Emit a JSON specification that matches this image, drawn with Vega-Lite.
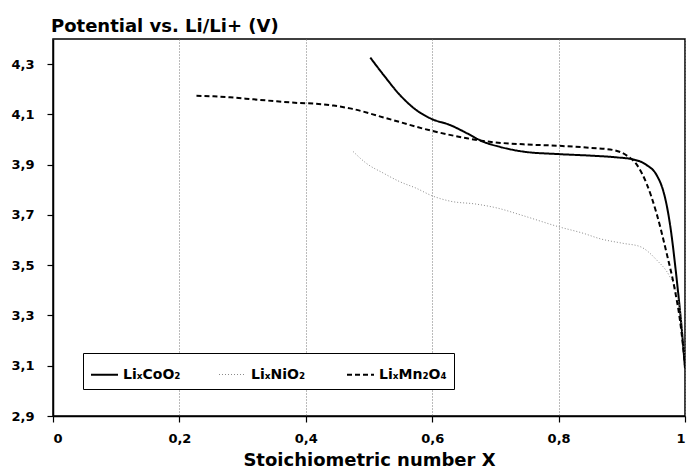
{
  "$schema": "https://vega.github.io/schema/vega-lite/v6.json",
  "autosize": "none",
  "width": 632,
  "height": 377,
  "padding": {"left": 53, "top": 39, "right": 2, "bottom": 55},
  "background": "white",
  "title": {"text": "Potential vs. Li/Li+ (V)", "anchor": "start", "frame": "group", "dx": -2, "offset": 3, "font": "DejaVu Sans", "fontSize": 18, "fontWeight": "bold", "color": "#000"},
  "config": {
    "view": {"stroke": "#000", "strokeWidth": 1.5},
    "axis": {"labelFont": "DejaVu Sans", "labelFontWeight": "bold", "labelFontSize": 13, "labelColor": "#000", "domainColor": "#000", "domainWidth": 1.5, "tickColor": "#000", "tickWidth": 1.2, "tickSize": 6, "titleFont": "DejaVu Sans", "titleFontWeight": "bold", "titleColor": "#000"}
  },
  "data": {"values": [
    {"s": "LiₓCoO₂", "x": 0.502, "v": 4.326},
    {"s": "LiₓCoO₂", "x": 0.523, "v": 4.257},
    {"s": "LiₓCoO₂", "x": 0.549, "v": 4.177},
    {"s": "LiₓCoO₂", "x": 0.575, "v": 4.117},
    {"s": "LiₓCoO₂", "x": 0.599, "v": 4.082},
    {"s": "LiₓCoO₂", "x": 0.628, "v": 4.058},
    {"s": "LiₓCoO₂", "x": 0.655, "v": 4.025},
    {"s": "LiₓCoO₂", "x": 0.681, "v": 3.991},
    {"s": "LiₓCoO₂", "x": 0.707, "v": 3.971},
    {"s": "LiₓCoO₂", "x": 0.744, "v": 3.952},
    {"s": "LiₓCoO₂", "x": 0.800, "v": 3.942},
    {"s": "LiₓCoO₂", "x": 0.850, "v": 3.936},
    {"s": "LiₓCoO₂", "x": 0.892, "v": 3.929},
    {"s": "LiₓCoO₂", "x": 0.918, "v": 3.921},
    {"s": "LiₓCoO₂", "x": 0.939, "v": 3.899},
    {"s": "LiₓCoO₂", "x": 0.955, "v": 3.859},
    {"s": "LiₓCoO₂", "x": 0.966, "v": 3.792},
    {"s": "LiₓCoO₂", "x": 0.971, "v": 3.739},
    {"s": "LiₓCoO₂", "x": 0.976, "v": 3.667},
    {"s": "LiₓCoO₂", "x": 0.987, "v": 3.441},
    {"s": "LiₓCoO₂", "x": 0.995, "v": 3.242},
    {"s": "LiₓCoO₂", "x": 1.000, "v": 3.09},
    {"s": "LiₓNiO₂", "x": 0.475, "v": 3.952},
    {"s": "LiₓNiO₂", "x": 0.496, "v": 3.905},
    {"s": "LiₓNiO₂", "x": 0.523, "v": 3.866},
    {"s": "LiₓNiO₂", "x": 0.549, "v": 3.832},
    {"s": "LiₓNiO₂", "x": 0.575, "v": 3.806},
    {"s": "LiₓNiO₂", "x": 0.599, "v": 3.777},
    {"s": "LiₓNiO₂", "x": 0.628, "v": 3.755},
    {"s": "LiₓNiO₂", "x": 0.670, "v": 3.743},
    {"s": "LiₓNiO₂", "x": 0.702, "v": 3.728},
    {"s": "LiₓNiO₂", "x": 0.744, "v": 3.697},
    {"s": "LiₓNiO₂", "x": 0.800, "v": 3.653},
    {"s": "LiₓNiO₂", "x": 0.839, "v": 3.627},
    {"s": "LiₓNiO₂", "x": 0.866, "v": 3.605},
    {"s": "LiₓNiO₂", "x": 0.902, "v": 3.587},
    {"s": "LiₓNiO₂", "x": 0.929, "v": 3.574},
    {"s": "LiₓNiO₂", "x": 0.955, "v": 3.521},
    {"s": "LiₓNiO₂", "x": 0.976, "v": 3.454},
    {"s": "LiₓNiO₂", "x": 0.987, "v": 3.388},
    {"s": "LiₓNiO₂", "x": 0.995, "v": 3.269},
    {"s": "LiₓNiO₂", "x": 1.000, "v": 3.12},
    {"s": "LiₓMn₂O₄", "x": 0.227, "v": 4.174},
    {"s": "LiₓMn₂O₄", "x": 0.254, "v": 4.172},
    {"s": "LiₓMn₂O₄", "x": 0.280, "v": 4.168},
    {"s": "LiₓMn₂O₄", "x": 0.317, "v": 4.160},
    {"s": "LiₓMn₂O₄", "x": 0.354, "v": 4.152},
    {"s": "LiₓMn₂O₄", "x": 0.391, "v": 4.145},
    {"s": "LiₓMn₂O₄", "x": 0.412, "v": 4.143},
    {"s": "LiₓMn₂O₄", "x": 0.444, "v": 4.135},
    {"s": "LiₓMn₂O₄", "x": 0.470, "v": 4.124},
    {"s": "LiₓMn₂O₄", "x": 0.523, "v": 4.088},
    {"s": "LiₓMn₂O₄", "x": 0.599, "v": 4.035},
    {"s": "LiₓMn₂O₄", "x": 0.655, "v": 4.005},
    {"s": "LiₓMn₂O₄", "x": 0.691, "v": 3.991},
    {"s": "LiₓMn₂O₄", "x": 0.744, "v": 3.981},
    {"s": "LiₓMn₂O₄", "x": 0.800, "v": 3.975},
    {"s": "LiₓMn₂O₄", "x": 0.850, "v": 3.967},
    {"s": "LiₓMn₂O₄", "x": 0.887, "v": 3.958},
    {"s": "LiₓMn₂O₄", "x": 0.908, "v": 3.936},
    {"s": "LiₓMn₂O₄", "x": 0.924, "v": 3.899},
    {"s": "LiₓMn₂O₄", "x": 0.939, "v": 3.826},
    {"s": "LiₓMn₂O₄", "x": 0.955, "v": 3.706},
    {"s": "LiₓMn₂O₄", "x": 0.971, "v": 3.547},
    {"s": "LiₓMn₂O₄", "x": 0.984, "v": 3.401},
    {"s": "LiₓMn₂O₄", "x": 0.992, "v": 3.282},
    {"s": "LiₓMn₂O₄", "x": 0.997, "v": 3.176},
    {"s": "LiₓMn₂O₄", "x": 1.000, "v": 3.10}
  ]},
  "mark": {"type": "line", "interpolate": "monotone", "clip": true},
  "encoding": {
    "x": {"field": "x", "type": "quantitative",
      "scale": {"domain": [0, 1], "nice": false, "zero": false},
      "axis": {"values": [0, 0.2, 0.4, 0.6, 0.8, 1], "title": "Stoichiometric number X", "titleFontSize": 18, "titlePadding": 6, "labelPadding": 10, "grid": true, "gridColor": "#777", "gridDash": [1, 2], "gridWidth": 1,
        "labelExpr": "datum.value == 0 ? '0' : datum.value == 1 ? '1' : replace(format(datum.value, '.1f'), '.', ',')"}},
    "y": {"field": "v", "type": "quantitative",
      "scale": {"domain": [2.9, 4.4], "nice": false, "zero": false},
      "axis": {"values": [2.9, 3.1, 3.3, 3.5, 3.7, 3.9, 4.1, 4.3], "title": null, "grid": false, "labelPadding": 13,
        "labelExpr": "replace(format(datum.value, '.1f'), '.', ',')"}},
    "color": {"field": "s", "type": "nominal",
      "scale": {"domain": ["LiₓCoO₂", "LiₓNiO₂", "LiₓMn₂O₄"], "range": ["#000000", "#8a8a8a", "#000000"]},
      "legend": {"title": null, "orient": "none", "legendX": 30, "legendY": 314, "direction": "horizontal", "columns": 3, "gridAlign": "all", "columnPadding": 24, "symbolType": "stroke", "symbolSize": 729, "labelFont": "DejaVu Sans", "labelFontWeight": 600, "labelFontSize": 14, "labelColor": "#000", "labelOffset": 4, "strokeColor": "#000", "fillColor": "white", "padding": 7}},
    "strokeDash": {"field": "s", "type": "nominal",
      "scale": {"domain": ["LiₓCoO₂", "LiₓNiO₂", "LiₓMn₂O₄"], "range": [[1, 0], [1, 2], [5, 3]]}},
    "strokeWidth": {"field": "s", "type": "nominal",
      "scale": {"type": "ordinal", "domain": ["LiₓCoO₂", "LiₓNiO₂", "LiₓMn₂O₄"], "range": [2, 1, 2]}}
  }
}
